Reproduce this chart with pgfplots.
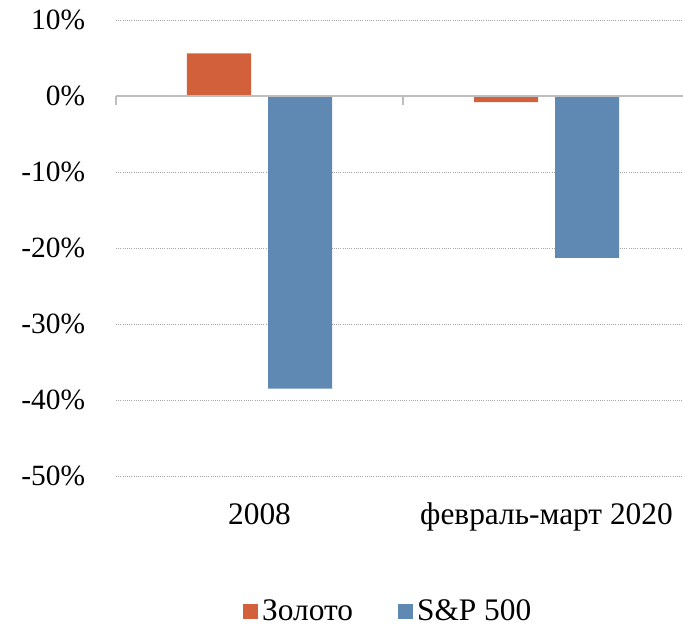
\documentclass[border=0pt]{standalone}
\usepackage{fontspec}
\setmainfont{Liberation Serif}
\usepackage{pgfplots}
\pgfplotsset{compat=1.18}
\definecolor{goldc}{HTML}{D2603A}
\definecolor{spxc}{HTML}{5F88B2}
\definecolor{zl}{RGB}{190,190,190}
\begin{document}
\fontsize{29.5}{34}\selectfont
\begin{tikzpicture}
\useasboundingbox (-116bp,-151bp) rectangle (567bp,476bp);
\begin{axis}[
  at={(0,0)}, anchor=south west,
  scale only axis, width=574bp, height=456bp,
  ymin=-50, ymax=10, xmin=-0.5, xmax=1.5,
  ytick={-50,-40,-30,-20,-10,0,10},
  yticklabels={-50\%,-40\%,-30\%,-20\%,-10\%,0\%,10\%},
  xtick={0,1}, xticklabels={2008, февраль-март 2020},
  axis line style={draw=none}, major tick length=0,
  ymajorgrids, major grid style={draw=gray!70, dash pattern=on 1bp off 1.2bp, line width=0.9bp},
  yticklabel style={anchor=east, xshift=-21bp},
  xticklabel style={font=\fontsize{31.5}{36}\selectfont, text height=21bp, text depth=6bp, yshift=-18bp},
  ybar=17bp, bar width=64bp,
  legend style={at={(0.476,-0.298)}, anchor=center, draw=none, fill=none,
    font=\fontsize{31.5}{36}\selectfont,
    nodes={inner xsep=4.5bp},
    legend columns=2, /tikz/every even column/.append style={column sep=40bp}},
  legend image code/.code={\fill[#1] (0bp,-7.5bp) rectangle (15bp,7.5bp);},
  clip=false,
]
\addplot[fill=goldc, draw=none] coordinates {(0,5.6) (1,-0.8)};
\addplot[fill=spxc, draw=none] coordinates {(0,-38.5) (1,-21.3)};
\legend{Золото, S\&P 500}
\draw[zl, line width=2bp] (axis cs:-0.5,0) -- (axis cs:1.5,0);
\draw[zl, line width=2bp] (axis cs:-0.5,0) -- ([yshift=-9bp]axis cs:-0.5,0);
\draw[zl, line width=2bp] (axis cs:0.5,0) -- ([yshift=-9bp]axis cs:0.5,0);
\draw[zl, line width=2bp] (axis cs:1.5,0) -- ([yshift=-9bp]axis cs:1.5,0);
\end{axis}
\end{tikzpicture}
\end{document}
